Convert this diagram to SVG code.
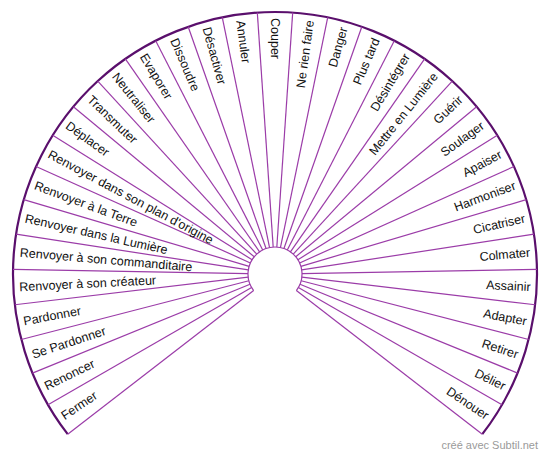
<svg xmlns="http://www.w3.org/2000/svg" width="550" height="457" viewBox="0 0 550 457">
<style>
.ray{stroke:#9b3ca8;stroke-width:1.2;fill:none}
.outer{stroke:#5a0f6c;stroke-width:2.2;fill:none}
.inner{stroke:#9b3ca8;stroke-width:1.2;fill:none}
text.l{font-family:"Liberation Sans",Arial,sans-serif;font-size:12.5px;fill:#111}
text.r{font-family:"Liberation Sans",Arial,sans-serif;font-size:12.5px;fill:#111;text-anchor:end}
.credit{font-family:"Liberation Sans",Arial,sans-serif;font-size:11px;fill:#9a9a9a;text-anchor:end}
</style>
<rect width="550" height="457" fill="#fff"/>
<g id="connectors">
<path class="outer" d="M67.7,434.2 A262,262 0 1 1 482.3,434.2"/>
<path class="inner" d="M253.64,290.51 A27,27 0 1 1 296.36,290.51"/>
<g transform="translate(275,274)">
<line class="ray" x1="27" y1="0" x2="262" y2="0" transform="rotate(142.30)"/>
<line class="ray" x1="27" y1="0" x2="262" y2="0" transform="rotate(150.04)"/>
<line class="ray" x1="27" y1="0" x2="262" y2="0" transform="rotate(157.78)"/>
<line class="ray" x1="27" y1="0" x2="262" y2="0" transform="rotate(165.52)"/>
<line class="ray" x1="27" y1="0" x2="262" y2="0" transform="rotate(173.26)"/>
<line class="ray" x1="27" y1="0" x2="262" y2="0" transform="rotate(181.00)"/>
<line class="ray" x1="27" y1="0" x2="262" y2="0" transform="rotate(188.74)"/>
<line class="ray" x1="27" y1="0" x2="262" y2="0" transform="rotate(196.48)"/>
<line class="ray" x1="27" y1="0" x2="262" y2="0" transform="rotate(204.22)"/>
<line class="ray" x1="27" y1="0" x2="262" y2="0" transform="rotate(211.95)"/>
<line class="ray" x1="27" y1="0" x2="262" y2="0" transform="rotate(219.69)"/>
<line class="ray" x1="27" y1="0" x2="262" y2="0" transform="rotate(227.43)"/>
<line class="ray" x1="27" y1="0" x2="262" y2="0" transform="rotate(235.17)"/>
<line class="ray" x1="27" y1="0" x2="262" y2="0" transform="rotate(242.91)"/>
<line class="ray" x1="27" y1="0" x2="262" y2="0" transform="rotate(250.65)"/>
<line class="ray" x1="27" y1="0" x2="262" y2="0" transform="rotate(258.39)"/>
<line class="ray" x1="27" y1="0" x2="262" y2="0" transform="rotate(266.13)"/>
<line class="ray" x1="27" y1="0" x2="262" y2="0" transform="rotate(273.87)"/>
<line class="ray" x1="27" y1="0" x2="262" y2="0" transform="rotate(281.61)"/>
<line class="ray" x1="27" y1="0" x2="262" y2="0" transform="rotate(289.35)"/>
<line class="ray" x1="27" y1="0" x2="262" y2="0" transform="rotate(297.09)"/>
<line class="ray" x1="27" y1="0" x2="262" y2="0" transform="rotate(304.83)"/>
<line class="ray" x1="27" y1="0" x2="262" y2="0" transform="rotate(312.57)"/>
<line class="ray" x1="27" y1="0" x2="262" y2="0" transform="rotate(320.31)"/>
<line class="ray" x1="27" y1="0" x2="262" y2="0" transform="rotate(328.05)"/>
<line class="ray" x1="27" y1="0" x2="262" y2="0" transform="rotate(335.78)"/>
<line class="ray" x1="27" y1="0" x2="262" y2="0" transform="rotate(343.52)"/>
<line class="ray" x1="27" y1="0" x2="262" y2="0" transform="rotate(351.26)"/>
<line class="ray" x1="27" y1="0" x2="262" y2="0" transform="rotate(359.00)"/>
<line class="ray" x1="27" y1="0" x2="262" y2="0" transform="rotate(366.74)"/>
<line class="ray" x1="27" y1="0" x2="262" y2="0" transform="rotate(374.48)"/>
<line class="ray" x1="27" y1="0" x2="262" y2="0" transform="rotate(382.22)"/>
<line class="ray" x1="27" y1="0" x2="262" y2="0" transform="rotate(389.96)"/>
<line class="ray" x1="27" y1="0" x2="262" y2="0" transform="rotate(397.70)"/>
</g>
</g>
<g id="labels" transform="translate(275,274)">
<g id="s01"><text class="l" dy="0.35em" transform="rotate(146.17) translate(256,0) rotate(180)">Fermer</text></g>
<g id="s02"><text class="l" dy="0.35em" transform="rotate(153.91) translate(256,0) rotate(180)">Renoncer</text></g>
<g id="s03"><text class="l" dy="0.35em" transform="rotate(161.65) translate(256,0) rotate(180)">Se Pardonner</text></g>
<g id="s04"><text class="l" dy="0.35em" transform="rotate(169.39) translate(256,0) rotate(180)">Pardonner</text></g>
<g id="s05"><text class="l" dy="0.35em" transform="rotate(177.13) translate(256,0) rotate(180)">Renvoyer à son créateur</text></g>
<g id="s06"><text class="l" dy="0.35em" transform="rotate(184.87) translate(256,0) rotate(180)">Renvoyer à son commanditaire</text></g>
<g id="s07"><text class="l" dy="0.35em" transform="rotate(192.61) translate(256,0) rotate(180)">Renvoyer dans la Lumière</text></g>
<g id="s08"><text class="l" dy="0.35em" transform="rotate(200.35) translate(256,0) rotate(180)">Renvoyer à la Terre</text></g>
<g id="s09"><text class="l" dy="0.35em" transform="rotate(208.09) translate(256,0) rotate(180)">Renvoyer dans son plan d'origine</text></g>
<g id="s10"><text class="l" dy="0.35em" transform="rotate(215.82) translate(256,0) rotate(180)">Déplacer</text></g>
<g id="s11"><text class="l" dy="0.35em" transform="rotate(223.56) translate(256,0) rotate(180)">Transmuter</text></g>
<g id="s12"><text class="l" dy="0.35em" transform="rotate(231.30) translate(256,0) rotate(180)">Neutraliser</text></g>
<g id="s13"><text class="l" dy="0.35em" transform="rotate(239.04) translate(256,0) rotate(180)">Evaporer</text></g>
<g id="s14"><text class="l" dy="0.35em" transform="rotate(246.78) translate(256,0) rotate(180)">Dissoudre</text></g>
<g id="s15"><text class="l" dy="0.35em" transform="rotate(254.52) translate(256,0) rotate(180)">Désactiver</text></g>
<g id="s16"><text class="l" dy="0.35em" transform="rotate(262.26) translate(256,0) rotate(180)">Annuler</text></g>
<g id="s17"><text class="l" dy="0.35em" transform="rotate(270.00) translate(256,0) rotate(180)">Couper</text></g>
<g id="s18"><text class="r" dy="0.35em" transform="rotate(277.74) translate(256,0)">Ne rien faire</text></g>
<g id="s19"><text class="r" dy="0.35em" transform="rotate(285.48) translate(256,0)">Danger</text></g>
<g id="s20"><text class="r" dy="0.35em" transform="rotate(293.22) translate(256,0)">Plus tard</text></g>
<g id="s21"><text class="r" dy="0.35em" transform="rotate(300.96) translate(256,0)">Désintégrer</text></g>
<g id="s22"><text class="r" dy="0.35em" transform="rotate(308.70) translate(256,0)">Mettre en Lumière</text></g>
<g id="s23"><text class="r" dy="0.35em" transform="rotate(316.44) translate(256,0)">Guérir</text></g>
<g id="s24"><text class="r" dy="0.35em" transform="rotate(324.18) translate(256,0)">Soulager</text></g>
<g id="s25"><text class="r" dy="0.35em" transform="rotate(331.91) translate(256,0)">Apaiser</text></g>
<g id="s26"><text class="r" dy="0.35em" transform="rotate(339.65) translate(256,0)">Harmoniser</text></g>
<g id="s27"><text class="r" dy="0.35em" transform="rotate(347.39) translate(256,0)">Cicatriser</text></g>
<g id="s28"><text class="r" dy="0.35em" transform="rotate(355.13) translate(256,0)">Colmater</text></g>
<g id="s29"><text class="r" dy="0.35em" transform="rotate(362.87) translate(256,0)">Assainir</text></g>
<g id="s30"><text class="r" dy="0.35em" transform="rotate(370.61) translate(256,0)">Adapter</text></g>
<g id="s31"><text class="r" dy="0.35em" transform="rotate(378.35) translate(256,0)">Retirer</text></g>
<g id="s32"><text class="r" dy="0.35em" transform="rotate(386.09) translate(256,0)">Délier</text></g>
<g id="s33"><text class="r" dy="0.35em" transform="rotate(393.83) translate(256,0)">Dénouer</text></g>
</g>
<text class="credit" x="538" y="449">créé avec Subtil.net</text>
</svg>
